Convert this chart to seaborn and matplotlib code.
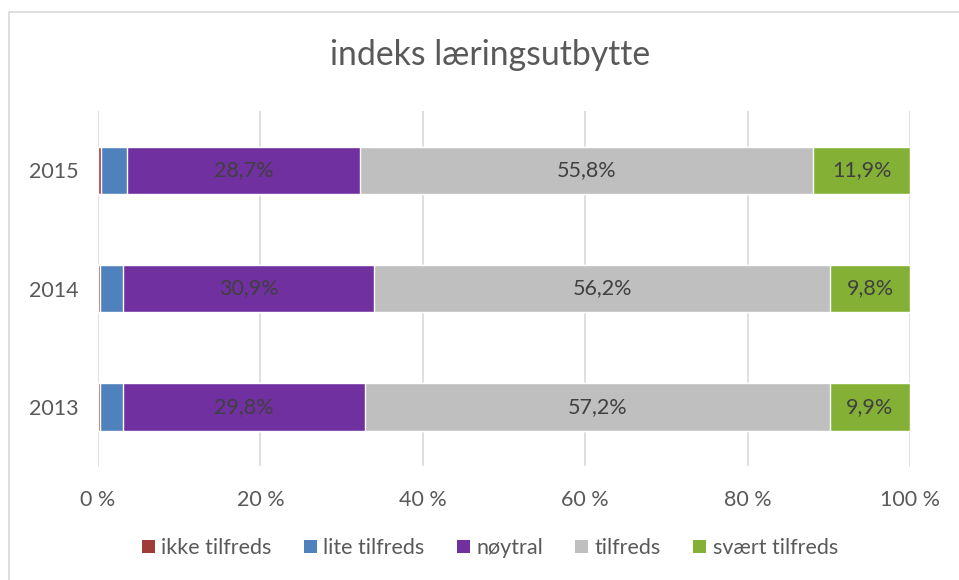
import numpy as np
import pandas as pd
import matplotlib
matplotlib.use('Agg')
import matplotlib.pyplot as plt
from matplotlib.patches import Patch, Rectangle
import seaborn as sns

# data (percent)
years = ['2015', '2014', '2013']
categories = ['ikke tilfreds', 'lite tilfreds', 'nøytral', 'tilfreds', 'svært tilfreds']
ikke_tilfreds = [0.4, 0.2, 0.2]
lite_tilfreds = [3.2, 2.9, 2.9]
noytral = [28.7, 30.9, 29.8]
tilfreds = [55.8, 56.2, 57.2]
svaert_tilfreds = [11.9, 9.8, 9.9]
labelled = ['nøytral', 'tilfreds', 'svært tilfreds']

colors = ['#A03C38', '#4F81BD', '#7030A0', '#BFBFBF', '#84B135']
text_col = '#404040'
axis_col = '#595959'

sns.set_theme(style='white')
plt.rcParams['font.family'] = ['Lato', 'DejaVu Sans']

df = pd.DataFrame({'year': years,
                   'ikke tilfreds': ikke_tilfreds,
                   'lite tilfreds': lite_tilfreds,
                   'nøytral': noytral,
                   'tilfreds': tilfreds,
                   'svært tilfreds': svaert_tilfreds})
cum = df[categories].cumsum(axis=1)

fig = plt.figure(figsize=(9.59, 5.80), dpi=100)
ax = fig.add_axes([98 / 959, 1 - 466 / 580, (910 - 98) / 959, (466 - 111) / 580])

# stacked bars: draw cumulative totals from the right-most segment back
for cat, col in reversed(list(zip(categories, colors))):
    sns.barplot(x=cum[cat], y=df['year'], order=years, orient='h',
                color=col, saturation=1, width=0.4, ax=ax, zorder=2)

# segment labels
for cat in labelled:
    left = cum[cat] - df[cat]
    for i, y in enumerate(years):
        v = df[cat][i]
        ax.text(left[i] + v / 2, i, f'{v:.1f}%'.replace('.', ','),
                ha='center', va='center', fontsize=15.5, color=text_col, zorder=3)

ax.set_xlim(0, 100)
ax.set_ylim(2.5, -0.5)
ax.set_xticks(np.arange(0, 101, 20))
ax.set_xticklabels([f'{t} %' for t in range(0, 101, 20)])
ax.xaxis.grid(True, color='#D9D9D9', linewidth=1.2, zorder=0)
ax.set_axisbelow(True)
ax.tick_params(axis='both', labelsize=15.5, colors=axis_col, length=0)
ax.tick_params(axis='x', pad=17)
ax.tick_params(axis='y', pad=14)
ax.set_xlabel('')
ax.set_ylabel('')
for s in ax.spines.values():
    s.set_visible(False)

fig.suptitle('indeks læringsutbytte', x=490 / 959, y=1 - 55 / 580, va='center',
             fontsize=24.3, color=axis_col)

handles = [Patch(facecolor=c, edgecolor='none') for c in colors]
fig.legend(handles, categories, loc='center', bbox_to_anchor=(490 / 959, 1 - 548 / 580),
           ncol=5, frameon=False, fontsize=15.5, labelcolor=axis_col,
           handlelength=0.6, handleheight=0.6, handletextpad=0.3, columnspacing=1.5)

fig.patches.append(Rectangle((9 / 959, -0.1), 1.2, 1 - 12 / 580 + 0.1,
                             transform=fig.transFigure, fill=False,
                             edgecolor='#D9D9D9', linewidth=1.2))

fig.savefig('out.png', dpi=100)
